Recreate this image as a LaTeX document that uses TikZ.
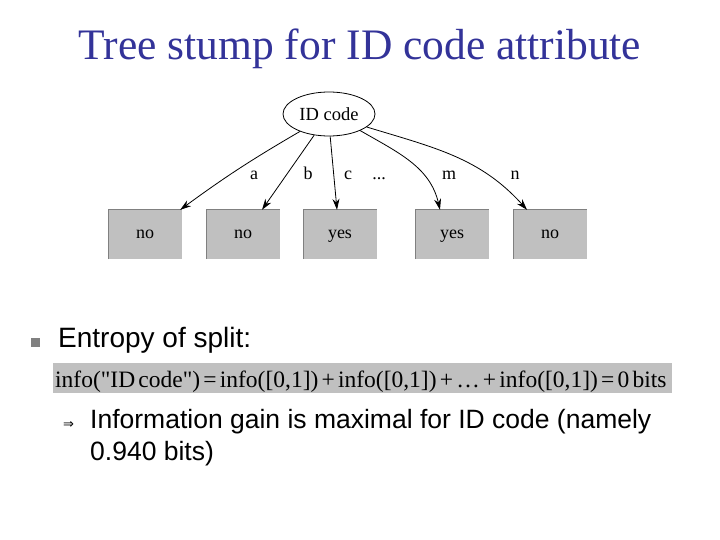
\documentclass[tikz,border=0pt]{standalone}
\usepackage{fontspec}
\setmainfont{Liberation Serif}
\setsansfont{Liberation Sans}
\newfontfamily\symfont{DejaVu Sans}
\usetikzlibrary{shapes.geometric,arrows.meta,calc}
\definecolor{titleblue}{HTML}{333399}
\definecolor{boxgray}{HTML}{C0C0C0}
\definecolor{bandgray}{HTML}{C0C0C0}
\newcommand{\gp}{\kern3.2pt}
\begin{document}
\begin{tikzpicture}[x=1pt,y=-1pt,
  leaf/.style={fill=boxgray,draw=none,minimum width=74pt,minimum height=49pt,inner sep=0pt,font=\fontsize{18}{18}\selectfont,text height=8pt,text depth=0pt},
  edge/.style={-{Stealth[length=11pt,width=7pt]},line width=0.8pt},
  elab/.style={font=\fontsize{18}{18}\selectfont,inner sep=0pt,text height=12pt,text depth=0pt}]
\useasboundingbox (0,0) rectangle (720,540);
\fill[white] (0,0) rectangle (720,540);
% title
\node[text=titleblue,font=\fontsize{43.5}{43.5}\selectfont,anchor=base] (title) at (360,60) {Tree stump for ID code attribute};
% tree
\node[ellipse,draw,line width=0.8pt,minimum width=92pt,minimum height=44pt,inner sep=0pt,font=\fontsize{18.5}{18.5}\selectfont] (id) at (329,114) {ID code};
\node[leaf] (b1) at (145,234.5) {no};
\node[leaf] (b2) at (243,234.5) {no};
\node[leaf] (b3) at (340,234.5) {yes};
\node[leaf] (b4) at (452,234.5) {yes};
\node[leaf] (b5) at (550,234.5) {no};
\foreach \b in {b1,b2,b3,b4,b5}{
  \draw[gray,line width=0.6pt] (\b.south west) -- (\b.north west) -- (\b.north east);
}
\draw[edge] (id.211) to[bend right=3] ([xshift=-2pt]b1.north east);
\draw[edge] (id.235) -- ([xshift=19pt]b2.north);
\draw[edge] (id.273) -- ([xshift=-3pt]b3.north);
\draw[edge] (id.332) to[out=-30,in=103] ([xshift=-12pt]b4.north);
\draw[edge] (id.341) to[out=-17,in=132] ([xshift=-23pt]b5.north);
\node[elab] (la) at (254,174) {a};
\node[elab] (lb) at (308,174) {b};
\node[elab] (lc) at (348,174) {c};
\node[elab] (ld) at (379,174) {...};
\node[elab] (lm) at (449,174) {m};
\node[elab] (ln) at (515,174) {n};
% bullet text
\fill[gray] (31,338) rectangle (40,347);
\node[font=\sffamily\fontsize{28}{28}\selectfont,anchor=base west,inner sep=0pt] (ent) at (58,347.5) {Entropy of split:};
\fill[bandgray] (53,363) rectangle (672,393);
\node[font=\fontsize{23.5}{23.5}\selectfont,anchor=base west,inner sep=0pt] (form) at (55,387) {info(\textquotedbl ID\gp code\textquotedbl)\gp=\gp info([0,1])\gp+\gp info([0,1])\gp+\gp…\gp+\gp info([0,1])\gp=\gp 0\gp bits};
\node[font=\symfont\fontsize{13}{13}\selectfont,anchor=base west,inner sep=0pt] (arr) at (63,428) {⇒};
\node[font=\sffamily\fontsize{26.5}{26.5}\selectfont,anchor=base west,inner sep=0pt] (info1) at (90,428.5) {Information gain is maximal for ID code (namely};
\node[font=\sffamily\fontsize{26.5}{26.5}\selectfont,anchor=base west,inner sep=0pt] (info2) at (90,460.5) {0.940 bits)};
\end{tikzpicture}
\end{document}
